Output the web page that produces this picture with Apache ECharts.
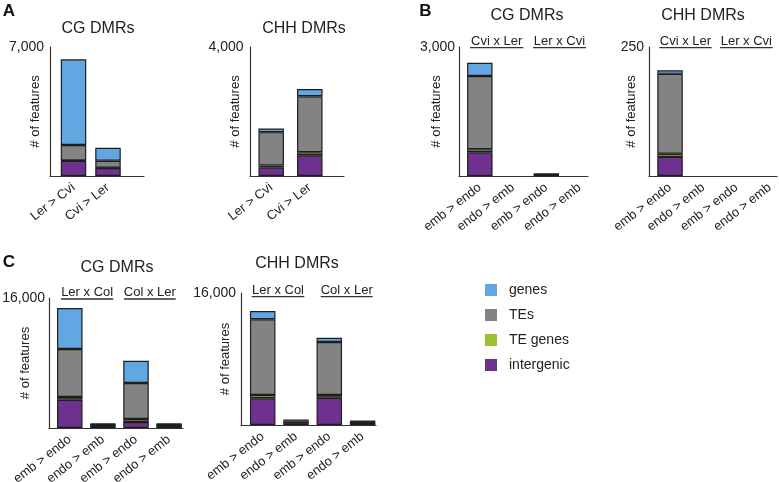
<!DOCTYPE html>
<html><head><meta charset="utf-8">
<script src="https://cdn.jsdelivr.net/npm/echarts@6/dist/echarts.min.js"></script>
<style>html,body{margin:0;padding:0;background:#fff}#c{width:779px;height:482px}</style>
</head><body><div id="c"></div>
<script>
// ---------- data ----------
const categoriesA = ['Ler > Cvi', 'Cvi > Ler'];
const categoriesBC = ['emb > endo', 'endo > emb', 'emb > endo', 'endo > emb'];
const seriesNames = ['intergenic', 'TE genes', 'TEs', 'genes'];   // bottom -> top
const legendOrder = ['genes', 'TEs', 'TE genes', 'intergenic'];
const panelTitles = ['CG DMRs', 'CHH DMRs', 'CG DMRs', 'CHH DMRs', 'CG DMRs', 'CHH DMRs'];
const panelLetters = ['A', 'B', 'C'];
const yMaxTicks = [7000, 4000, 3000, 250, 16000, 16000];
const crossesB = ['Cvi x Ler', 'Ler x Cvi'];
const crossesC = ['Ler x Col', 'Col x Ler'];
const yAxisName = '# of features';

// A: CG DMRs
const aCG_intergenic = [820, 430];
const aCG_teGenes    = [30, 20];
const aCG_TEs        = [830, 380];
const aCG_genes      = [4650, 706];
// A: CHH DMRs
const aCHH_intergenic = [260, 642];
const aCHH_teGenes    = [70, 93];
const aCHH_TEs        = [1030, 1736];
const aCHH_genes      = [115, 226];
// B: CG DMRs
const bCG_intergenic = [551, 0, 15, 0];
const bCG_teGenes    = [70, 0, 3, 0];
const bCG_TEs        = [1705, 0, 30, 0];
const bCG_genes      = [309, 0, 7, 0];
// B: CHH DMRs
const bCHH_intergenic = [37, 0, 0, 0];
const bCHH_teGenes    = [6, 0, 0, 0];
const bCHH_TEs        = [155, 0, 0, 0];
const bCHH_genes      = [7, 0, 0, 0];
// C: CG DMRs
const cCG_intergenic = [3483, 160, 738, 160];
const cCG_teGenes    = [332, 20, 370, 20];
const cCG_TEs        = [5908, 300, 4430, 300];
const cCG_genes      = [5046, 50, 2745, 50];
// C: CHH DMRs
const cCHH_intergenic = [3236, 200, 3309, 160];
const cCHH_teGenes    = [400, 30, 327, 25];
const cCHH_TEs        = [9176, 330, 6425, 270];
const cCHH_genes      = [1000, 46, 520, 30];

const panelData = [
  {cats: categoriesA,  vals: [aCG_intergenic, aCG_teGenes, aCG_TEs, aCG_genes]},
  {cats: categoriesA,  vals: [aCHH_intergenic, aCHH_teGenes, aCHH_TEs, aCHH_genes]},
  {cats: categoriesBC, vals: [bCG_intergenic, bCG_teGenes, bCG_TEs, bCG_genes]},
  {cats: categoriesBC, vals: [bCHH_intergenic, bCHH_teGenes, bCHH_TEs, bCHH_genes]},
  {cats: categoriesBC, vals: [cCG_intergenic, cCG_teGenes, cCG_TEs, cCG_genes]},
  {cats: categoriesBC, vals: [cCHH_intergenic, cCHH_teGenes, cCHH_TEs, cCHH_genes]}
];

// ---------- layout & style ----------
const FONT = 'Liberation Sans, Arial, Helvetica, sans-serif';
const TXT = '#222';
const colors = {'intergenic': '#6f3190', 'TE genes': '#9dbf32', 'TEs': '#838383', 'genes': '#62a6e2'};
const layout = [
  {frame: [50, 144, 47, 176],  bars: [56.25, 69],   nameGap: 8.5,  lm: 6,   title: [98, 29]},
  {frame: [250, 344, 47, 176], bars: [251.9, 77.2], nameGap: 8.5,  lm: 6.5, title: [304, 29]},
  {frame: [459, 588, 47, 176], bars: [463.2, 133],  nameGap: 15.8, lm: 4,   title: [527, 16]},
  {frame: [649, 777, 47, 176], bars: [653.4, 133],  nameGap: 10.8, lm: 5,   title: [703, 16]},
  {frame: [49, 183, 298, 428], bars: [53.25, 132.4],nameGap: 17.5, lm: 4,   title: [117, 268]},
  {frame: [241, 376, 293, 425],bars: [246.05,133.2],nameGap: 9.5,  lm: 5,   title: [297, 264]}
];
const subLayout = [
  {panel: 2, crosses: crossesB, y: 41.7, uy: 47.7, spans: [[470, 523.3], [533, 586]]},
  {panel: 3, crosses: crossesB, y: 41,   uy: 47.7, spans: [[659.3, 711.7], [720, 772.7]]},
  {panel: 4, crosses: crossesC, y: 292.3,uy: 299,  spans: [[61, 113.3], [124, 175.7]]},
  {panel: 5, crosses: crossesC, y: 290,  uy: 296.7,spans: [[251.7, 304.3], [320.7, 372.7]]}
];
const letterPos = [[9, 11], [425.5, 11], [9, 262]];

const grid = [], xAxis = [], yAxis = [], series = [], graphic = [];
layout.forEach((L, i) => {
  const [x0, x1, y0, y1] = L.frame;
  const M = yMaxTicks[i];
  // frame grid (axis lines + y label + name)
  grid.push({left: x0, top: y0, width: x1 - x0, height: y1 - y0, containLabel: false, outerBoundsMode: 'none'});
  xAxis.push({gridIndex: 2 * i, type: 'value', min: 0, max: 1,
    axisLine: {show: true, lineStyle: {color: '#333', width: 1.2}},
    axisTick: {show: false}, axisLabel: {show: false}, splitLine: {show: false}});
  yAxis.push({gridIndex: 2 * i, type: 'value', min: 0, max: M, interval: M,
    axisLine: {show: true, lineStyle: {color: '#333', width: 1.2}},
    axisTick: {show: false}, splitLine: {show: false},
    axisLabel: {showMinLabel: false, fontSize: 14, color: TXT, fontFamily: FONT, margin: L.lm,
      formatter: v => v.toLocaleString('en-US')},
    name: yAxisName, nameLocation: 'middle', nameGap: L.nameGap, nameMoveOverlap: false,
    nameTextStyle: {fontSize: 13, color: TXT, fontFamily: FONT}});
  // bar grid
  grid.push({left: L.bars[0], top: y0, width: L.bars[1], height: y1 - y0, containLabel: false, outerBoundsMode: 'none'});
  xAxis.push({gridIndex: 2 * i + 1, type: 'category', data: panelData[i].cats,
    axisLine: {show: false}, axisTick: {show: false},
    axisLabel: {rotate: 38, margin: 10, interval: 0, fontSize: 13, color: TXT, fontFamily: FONT}});
  yAxis.push({gridIndex: 2 * i + 1, type: 'value', min: 0, max: M, show: false});
  seriesNames.forEach((nm, k) => {
    series.push({type: 'bar', name: nm, xAxisIndex: 2 * i + 1, yAxisIndex: 2 * i + 1,
      stack: 'p' + i, barWidth: 25.5,
      data: panelData[i].vals[k].map(v => v === 0 ? '-' : v),
      itemStyle: {color: colors[nm], borderColor: '#1e1e1e', borderWidth: 1.2}});
  });
  graphic.push({type: 'text', x: L.title[0], y: L.title[1],
    style: {text: panelTitles[i], font: '16px ' + FONT, fill: TXT, textAlign: 'center', textVerticalAlign: 'middle'}});
});
subLayout.forEach(S => {
  S.crosses.forEach((c, j) => {
    const [a, b] = S.spans[j];
    graphic.push({type: 'text', x: (a + b) / 2, y: S.y,
      style: {text: c, font: '13px ' + FONT, fill: TXT, textAlign: 'center', textVerticalAlign: 'middle'}});
    graphic.push({type: 'line', shape: {x1: a, y1: S.uy, x2: b, y2: S.uy},
      style: {stroke: '#333', lineWidth: 1.3}});
  });
});
panelLetters.forEach((t, j) => {
  graphic.push({type: 'text', x: letterPos[j][0], y: letterPos[j][1],
    style: {text: t, font: 'bold 17px ' + FONT, fill: '#111', textAlign: 'center', textVerticalAlign: 'middle'}});
});

const chart = echarts.init(document.getElementById('c'), null, {renderer: 'canvas'});
chart.setOption({
  animation: false,
  backgroundColor: '#fff',
  textStyle: {fontFamily: FONT},
  grid, xAxis, yAxis, series, graphic,
  legend: {orient: 'vertical', left: 485, top: 283, padding: 0, itemWidth: 12, itemHeight: 12, itemGap: 11,
    icon: 'rect', data: legendOrder, selectedMode: false,
    itemStyle: {borderWidth: 0},
    textStyle: {fontSize: 14, color: TXT, fontFamily: FONT, padding: [0, 0, 0, 7]}}
});
</script></body></html>
